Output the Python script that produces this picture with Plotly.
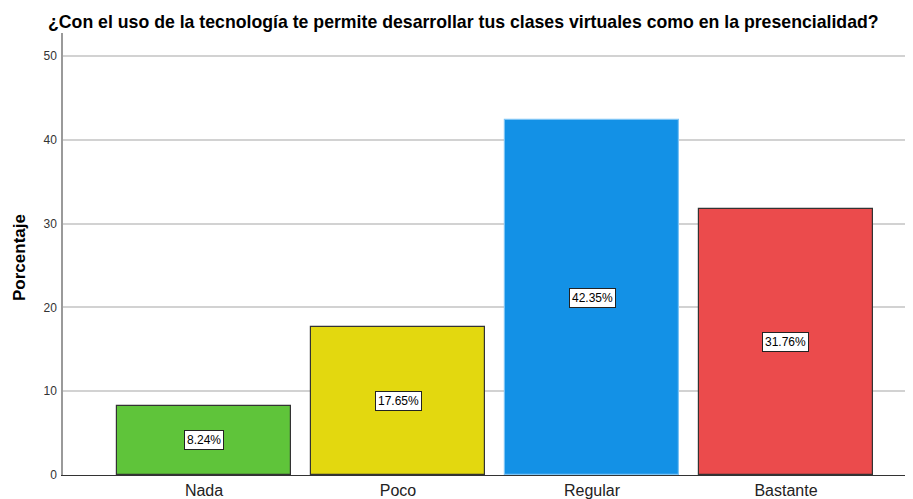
import plotly.graph_objects as go

categories = ["Nada", "Poco", "Regular", "Bastante"]
values = [8.24, 17.65, 42.35, 31.76]
labels = ["8.24%", "17.65%", "42.35%", "31.76%"]
colors = ["#5FC43A", "#E3D80F", "#1391E6", "#EB4B4C"]
outline = ["#333333", "#333333", "#7CC4F5", "#333333"]
y_ticks = [0, 10, 20, 30, 40, 50]

# page body has an 8px margin; margins compensate for it
W, H = 913, 499
ml, mr, mt, mb = 55, 0, 25, 32

fig = go.Figure()
fig.add_trace(go.Bar(
    x=categories, y=values,
    marker=dict(color=colors, line=dict(color=outline, width=1.2)),
    width=0.897, hoverinfo="skip", showlegend=False,
))

for c, v, t in zip(categories, values, labels):
    fig.add_annotation(
        x=c, y=v / 2, xref="x", yref="y", text=t, showarrow=False,
        font=dict(family="Liberation Sans, Arial", size=12, color="#000"),
        bgcolor="white", bordercolor="#222", borderwidth=1, borderpad=2,
    )

fig.add_annotation(
    text="Porcentaje", textangle=-90, showarrow=False,
    xref="paper", yref="paper", x=(11 - ml) / (W - ml - mr), y=(467 - 250) / (H - mt - mb),
    xanchor="center", yanchor="middle",
    font=dict(family="Liberation Sans, Arial", size=17, color="#000", weight="bold"),
)

fig.update_layout(
    width=W, height=H,
    margin=dict(l=ml, r=mr, t=mt, b=mb, pad=0, autoexpand=False),
    paper_bgcolor="white", plot_bgcolor="white",
    title=dict(
        text="<b>¿Con el uso de la tecnología te permite desarrollar tus clases virtuales como en la presencialidad?</b>",
        x=40 / W, xanchor="left", xref="container",
        y=1 - 14 / H, yanchor="middle", yref="container",
        font=dict(family="Liberation Sans, Arial", size=17.7, color="#000"),
    ),
    bargap=0,
)

fig.update_xaxes(
    range=[-0.727, 3.696], showgrid=False, showline=True, linecolor="#333", linewidth=1,
    ticks="", tickfont=dict(family="Liberation Sans, Arial", size=16, color="#222"),
    ticklabelstandoff=1, automargin=False, fixedrange=True,
)
fig.update_yaxes(
    range=[0, 52.75], tickvals=y_ticks, showgrid=True, gridcolor="#D2D2D2", gridwidth=1.5,
    showline=True, linecolor="#9A9A9A", linewidth=1.5, zeroline=False, ticks="",
    tickfont=dict(family="Liberation Sans, Arial", size=12, color="#333"),
    ticklabelstandoff=2, automargin=False, fixedrange=True,
)

fig.write_html("out.html")
